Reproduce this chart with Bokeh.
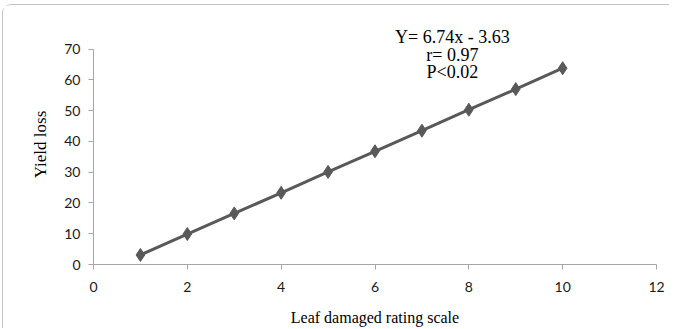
from bokeh.plotting import figure
from bokeh.models import Range1d, Label, FixedTicker
from bokeh.embed import file_html
from bokeh.resources import INLINE

# data
rating = [1, 2, 3, 4, 5, 6, 7, 8, 9, 10]
yield_loss = [3.1, 9.9, 16.6, 23.3, 30.1, 36.8, 43.5, 50.3, 57.0, 63.8]
x_ticks = [0, 2, 4, 6, 8, 10, 12]
y_ticks = [0, 10, 20, 30, 40, 50, 60, 70]
eq_lines = ["Y= 6.74x - 3.63", "r= 0.97", "P<0.02"]
x_title = "Leaf damaged rating scale"
y_title = "Yield loss"

AX = "#a6a6a6"
SER = "#595959"

p = figure(frame_width=563, frame_height=240,
           min_border_left=90, min_border_right=13,
           min_border_top=19, min_border_bottom=58,
           x_range=Range1d(0, 12), y_range=Range1d(0, 78),
           output_backend="svg", toolbar_location=None)
p.styles = {"margin-left": "2px", "margin-top": "4px",
            "border-left": "1px solid #c4c4c4", "border-top": "1px solid #c4c4c4",
            "border-top-left-radius": "9px"}
p.outline_line_color = None
p.xgrid.grid_line_color = None
p.ygrid.grid_line_color = None
p.background_fill_color = "white"
p.border_fill_color = "white"

for ax in (p.xaxis[0], p.yaxis[0]):
    ax.axis_line_color = AX
    ax.major_tick_line_color = AX
    ax.minor_tick_line_color = None
    ax.major_tick_in = 0
    ax.major_tick_out = 5
    ax.major_label_text_font = "Lato"
    ax.major_label_text_font_size = "14px"
    ax.major_label_text_color = "#1a1a1a"
    ax.axis_label_text_font = "Liberation Serif"
    ax.axis_label_text_font_style = "normal"
    ax.axis_label_text_color = "#000000"

p.xaxis.axis_label_text_font_size = "16px"
p.yaxis.axis_label_text_font_size = "17px"
p.xaxis.ticker = FixedTicker(ticks=x_ticks)
p.yaxis.ticker = FixedTicker(ticks=y_ticks)
p.yaxis.bounds = (0, 70)
p.xaxis.bounds = (0, 12)
p.xaxis.axis_label = x_title
p.yaxis.axis_label = y_title
p.xaxis.major_label_standoff = 12
p.yaxis.major_label_standoff = 8
p.xaxis.axis_label_standoff = 14
p.yaxis.axis_label_standoff = 11

p.line(rating, yield_loss, line_color=SER, line_width=3)
p.scatter(rating, yield_loss, marker="diamond", size=13,
          fill_color=SER, line_color=SER)

eq_y = [74.0, 68.2, 62.6]
for t, yy in zip(eq_lines, eq_y):
    p.add_layout(Label(x=7.65, y=yy, text=t, text_align="center",
                       text_baseline="middle", text_font="Liberation Serif",
                       text_font_size="18px", text_color="#000000"))

open("out.html", "w").write(file_html(p, INLINE))
